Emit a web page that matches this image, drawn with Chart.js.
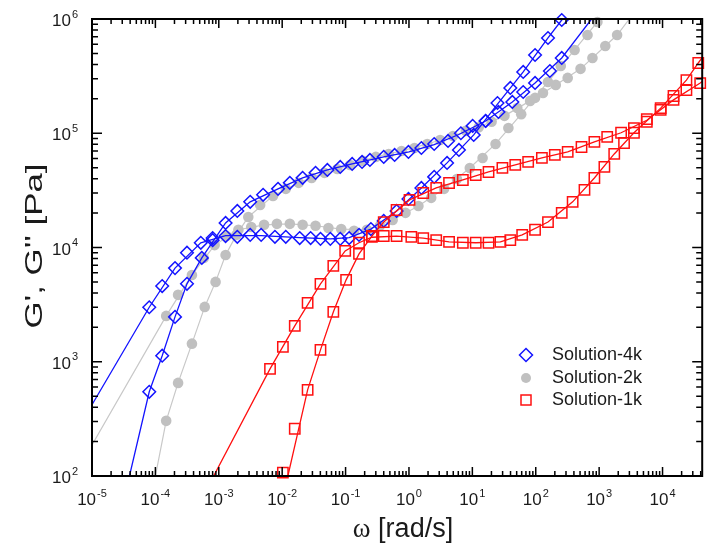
<!DOCTYPE html>
<html>
<head>
<meta charset="utf-8">
<script src="https://cdn.jsdelivr.net/npm/chart.js@4.4.1/dist/chart.umd.min.js"></script>
<style>
  html, body { margin: 0; padding: 0; background: #ffffff; }
  #wrap { width: 711px; height: 547px; }
</style>
</head>
<body>
<div id="wrap"><canvas id="chart" width="711" height="547"></canvas></div>
<script>
// ===========================
// DATA  (omega [rad/s], modulus [Pa])
// ===========================

const xDecades = [-5, -4, -3, -2, -1, 0, 1, 2, 3, 4];
const yDecades = [2, 3, 4, 5, 6];
const legendNames = ["Solution-4k", "Solution-2k", "Solution-1k"];

// Solution-4k
const sol4kLoss = [
  [8.0e-5, 3000], [1.28e-4, 4600], [2.04e-4, 6600], [3.15e-4, 9000], [5.2e-4, 11000],
  [8.0e-4, 12100], [1.28e-3, 12600], [1.96e-3, 12400], [3.13e-3, 12900], [4.66e-3, 12900],
  [7.69e-3, 12400], [0.0114, 12400], [0.0189, 12100], [0.0281, 12100], [0.0402, 11900],
  [0.0575, 11900], [0.0824, 11900], [0.114, 12100], [0.163, 12900], [0.251, 14500],
  [0.4, 17100], [0.638, 20900], [0.982, 26600], [1.57, 33200], [2.5, 41500],
  [3.99, 55000], [6.14, 71400], [10.5, 96700], [16.2, 128000], [24.9, 184000],
  [39.7, 249000], [63.4, 344000], [97.5, 484000], [156, 682000], [257, 980000]
];
const sol4kStorage = [
  [8.0e-5, 546], [1.28e-4, 1130], [2.04e-4, 2470], [3.15e-4, 4810], [5.4e-4, 8110],
  [8.0e-4, 11600], [1.28e-3, 16400], [1.96e-3, 20900], [3.13e-3, 25100], [5.0e-3, 28900],
  [8.6e-3, 32600], [0.0132, 36800], [0.021, 40700], [0.0336, 45000], [0.0516, 47700],
  [0.0824, 50700], [0.127, 53900], [0.182, 56100], [0.242, 58400], [0.4, 62100],
  [0.594, 64600], [0.981, 68600], [1.57, 74300], [2.5, 80500], [4.13, 85600],
  [6.59, 100000], [10.1, 116000], [16.2, 128200], [25.8, 153600], [42.7, 187800],
  [63.4, 229700], [97.5, 275400], [167, 350600], [257, 456000]
];

// Solution-2k
const sol2kLoss = [
  [1.48e-4, 2520], [2.28e-4, 3850], [3.77e-4, 5750], [5.79e-4, 8110], [8.6e-4, 10500],
  [1.32e-3, 12600], [2.04e-3, 14300], [3.25e-3, 15100], [5.18e-3, 15800], [8.26e-3, 16100],
  [0.0132, 16100], [0.021, 15800], [0.0336, 15500], [0.0536, 14800], [0.0853, 14500],
  [0.136, 14000], [0.217, 14300], [0.347, 15500], [0.553, 17400], [0.881, 20100],
  [1.41, 23100], [2.24, 27200], [3.58, 32600], [5.71, 39800], [9.11, 49700],
  [14.5, 60800], [23.2, 80600], [37, 111000], [59, 147000], [97.5, 204000],
  [156, 281000], [248, 388000], [410, 536000], [655, 724000], [938, 942000]
];
const sol2kStorage = [
  [1.48e-4, 304], [2.28e-4, 653], [3.77e-4, 1440], [6.0e-4, 3020], [8.9e-4, 5000],
  [1.28e-3, 8610], [1.9e-3, 12900], [2.92e-3, 18500], [4.49e-3, 23600], [7.16e-3, 28300],
  [0.0114, 32600], [0.0182, 36800], [0.0291, 40600], [0.0464, 45000], [0.074, 48700],
  [0.118, 52800], [0.188, 57300], [0.3, 62100], [0.479, 65900], [0.764, 70000],
  [1.22, 74300], [1.94, 80600], [3.1, 87300], [4.94, 94600], [7.89, 105000],
  [12.6, 113000], [20.1, 126000], [32.1, 142000], [51.1, 166000], [81.5, 192000],
  [130, 225000], [207, 265000], [319, 305000], [509, 366000], [784, 456000],
  [1250, 581000], [1920, 724000]
];

// Solution-1k
const sol1kLoss = [
  [6.43e-3, 867], [0.01026, 1350], [0.0158, 2060], [0.0252, 3270], [0.0402, 4810],
  [0.0641, 6910], [0.0986, 9340], [0.163, 11000], [0.26, 12400], [0.4, 12600],
  [0.638, 12600], [1.09, 12400], [1.68, 12100], [2.69, 11600], [4.29, 11200],
  [7.08, 11000], [11.3, 11000], [18, 11000], [27.7, 11200], [39.7, 11600],
  [61.1, 12900], [97.5, 14300], [156, 16700], [257, 20100], [382, 25100],
  [587, 31900], [841, 40600], [1210, 50700], [1730, 65900], [2470, 82200],
  [3540, 101000], [5650, 126000], [9340, 166000], [14900, 212000], [23800, 292000],
  [36600, 412000]
];
const sol1kStorage = [
  [0.01026, 107], [0.0158, 259], [0.0252, 568], [0.0402, 1270], [0.0641, 2730],
  [0.102, 5210], [0.163, 8790], [0.26, 12600], [0.4, 16700], [0.638, 21300],
  [1.02, 26100], [1.68, 30000], [2.69, 33200], [4.29, 36700], [7.08, 39000],
  [11.3, 43100], [18, 45800], [29.8, 49700], [47.5, 52800], [75.9, 56100],
  [125, 60800], [200, 64600], [319, 68600], [527, 75800], [841, 84000],
  [1340, 92900], [2220, 101000], [3540, 111000], [5650, 133000], [9340, 160000],
  [14900, 196000], [23800, 239000], [39300, 275000]
];

// Fitted model curves (thin lines)
const fit4kLoss = [
  [1e-5, 420], [8.0e-5, 3000], [2.04e-4, 6600], [5.2e-4, 11000], [1.28e-3, 12700],
  [4.66e-3, 12700], [0.0189, 12200], [0.0575, 11900], [0.114, 12200], [0.251, 14500],
  [0.638, 20900], [1.57, 33200], [3.99, 55000], [10.5, 96700], [24.9, 180000],
  [63.4, 344000], [156, 682000], [257, 980000], [400, 1.3e6]
];
const fit4kStorage = [
  [3.9e-5, 100], [8.0e-5, 546], [1.28e-4, 1130], [2.04e-4, 2470], [3.15e-4, 4810],
  [5.4e-4, 8110], [1.28e-3, 16400], [3.13e-3, 25100], [8.6e-3, 32600], [0.021, 40700],
  [0.0516, 47700], [0.127, 53900], [0.4, 62100], [1.0, 68600], [2.5, 79500],
  [6.0, 97000], [16.2, 128000], [42.7, 188000], [97.5, 275000], [257, 456000],
  [760, 1.0e6], [1000, 1.2e6]
];
const fit2kLoss = [
  [1e-5, 187], [1.48e-4, 2520], [3.77e-4, 5750], [8.6e-4, 10500], [2.04e-3, 14300],
  [5.18e-3, 15800], [0.0132, 16100], [0.0336, 15500], [0.0853, 14500], [0.217, 14300],
  [0.553, 17400], [1.41, 23100], [3.58, 32600], [9.11, 49700], [23.2, 80600],
  [59, 147000], [156, 281000], [410, 536000], [938, 942000], [1300, 1.25e6]
];
const fit2kStorage = [
  [1.0e-4, 100], [1.48e-4, 304], [2.28e-4, 653], [3.77e-4, 1440], [6.0e-4, 3020],
  [8.9e-4, 5000], [1.28e-3, 8610], [1.9e-3, 12900], [2.92e-3, 18500], [7.16e-3, 28300],
  [0.0182, 36800], [0.0464, 45000], [0.118, 52800], [0.3, 62100], [0.764, 70000],
  [1.94, 80600], [4.94, 94600], [12.6, 113000], [32.1, 142000], [81.5, 192000],
  [207, 265000], [509, 366000], [1250, 581000], [1920, 724000], [3000, 1.0e6]
];
const fit1kLoss = [
  [8.3e-4, 100], [6.43e-3, 867], [0.0158, 2060], [0.0402, 4810], [0.0986, 9340],
  [0.163, 11000], [0.26, 12300], [0.638, 12600], [1.68, 12100], [4.29, 11200],
  [11.3, 11000], [27.7, 11200], [61.1, 12900], [156, 16700], [382, 25100],
  [841, 40600], [1730, 65900], [3540, 101000], [9340, 166000], [23800, 292000],
  [36600, 412000], [60000, 600000]
];
const fit1kStorage = [
  [0.0123, 100], [0.0252, 568], [0.0402, 1270], [0.0641, 2730], [0.102, 5210],
  [0.163, 8790], [0.26, 12600], [0.4, 16700], [1.02, 26100], [2.69, 33200],
  [7.08, 39000], [18, 45800], [47.5, 52800], [125, 60800], [319, 68600],
  [841, 84000], [2220, 101000], [5650, 130000], [14900, 196000], [39300, 275000],
  [60000, 330000]
];

// ===========================
// STYLE HELPERS
// ===========================

const BLUE = "#1414ff";
const RED = "#ff1010";
const GREY = "#c0c0c0";
const GREY_LINE = "#c8c8c8";
const INK = "#1a1a1a";
const SANS = '"Liberation Sans", Arial, sans-serif';
const NARROW = '"Liberation Sans Narrow", "Liberation Sans", Arial, sans-serif';

function pts(arr) {
  return arr.map((p) => ({ x: p[0], y: p[1] }));
}

function markers(data, color, style, radius, filled) {
  return {
    data: pts(data),
    showLine: false,
    clip: false,
    pointStyle: style,
    pointRadius: radius,
    pointHoverRadius: radius,
    pointBorderWidth: filled ? 0 : 1.5,
    pointBorderColor: color,
    pointBackgroundColor: filled ? color : "rgba(0,0,0,0)",
    borderColor: color,
  };
}

function fitLine(data, color, width) {
  return {
    data: pts(data),
    showLine: true,
    pointRadius: 0,
    pointHoverRadius: 0,
    borderColor: color,
    borderWidth: width,
    fill: false,
    tension: 0,
  };
}

// ===========================
// AXES, LABELS, LEGEND (drawn on top)
// ===========================

function drawPower(ctx, exp, x, baseline, align) {
  ctx.font = "17px " + NARROW;
  const wb = ctx.measureText("10").width;
  ctx.font = "11px " + NARROW;
  const we = ctx.measureText(exp).width;
  const total = wb + we + 1;
  const start = align === "center" ? x - total / 2 : x - total;
  ctx.textAlign = "left";
  ctx.textBaseline = "alphabetic";
  ctx.font = "17px " + NARROW;
  ctx.fillText("10", start, baseline);
  ctx.font = "11px " + NARROW;
  ctx.fillText(exp, start + wb + 1, baseline - 8.5);
}

const framePlugin = {
  id: "frame",
  afterDraw(chart) {
    const { ctx, chartArea: a, scales } = chart;
    const xs = scales.x;
    const ys = scales.y;
    ctx.save();

    // frame
    ctx.strokeStyle = "#000";
    ctx.lineWidth = 2;
    ctx.strokeRect(a.left, a.top, a.right - a.left, a.bottom - a.top);

    // inward ticks
    ctx.lineWidth = 1.5;
    ctx.beginPath();
    xDecades.forEach((d) => {
      for (let m = 1; m <= 9; m++) {
        const v = m * Math.pow(10, d);
        if (v > xs.max) break;
        const px = xs.getPixelForValue(v);
        const len = m === 1 ? 9 : 5;
        ctx.moveTo(px, a.bottom);
        ctx.lineTo(px, a.bottom - len);
        ctx.moveTo(px, a.top);
        ctx.lineTo(px, a.top + len);
      }
    });
    yDecades.forEach((d) => {
      for (let m = 1; m <= 9; m++) {
        const v = m * Math.pow(10, d);
        if (v > ys.max) break;
        const py = ys.getPixelForValue(v);
        const len = m === 1 ? 10 : 6;
        ctx.moveTo(a.left, py);
        ctx.lineTo(a.left + len, py);
        ctx.moveTo(a.right, py);
        ctx.lineTo(a.right - len, py);
      }
    });
    ctx.stroke();

    // tick labels
    ctx.fillStyle = INK;
    xDecades.forEach((d) => {
      drawPower(ctx, String(d), xs.getPixelForValue(Math.pow(10, d)), a.bottom + 29, "center");
    });
    yDecades.forEach((d) => {
      drawPower(ctx, String(d), a.left - 14, ys.getPixelForValue(Math.pow(10, d)) + 7, "right");
    });

    // x title
    ctx.font = '27px "Liberation Serif", "Times New Roman", serif';
    const w1 = ctx.measureText("\u03c9").width;
    ctx.font = "27px " + SANS;
    const w2 = ctx.measureText(" [rad/s]").width;
    const sx = 403 - (w1 + w2) / 2;
    ctx.textAlign = "left";
    ctx.textBaseline = "alphabetic";
    ctx.font = '27px "Liberation Serif", "Times New Roman", serif';
    ctx.fillText("\u03c9", sx, 537);
    ctx.font = "27px " + SANS;
    ctx.fillText(" [rad/s]", sx + w1, 537);

    // y title
    ctx.save();
    ctx.translate(42, 246);
    ctx.rotate(-Math.PI / 2);
    ctx.scale(1.45, 1);
    ctx.font = "24px " + SANS;
    ctx.textAlign = "center";
    ctx.fillText("G', G'' [Pa]", 0, 0);
    ctx.restore();

    // legend
    const lx = 526;
    const rows = [355, 378, 400];
    ctx.lineWidth = 1.5;
    ctx.strokeStyle = BLUE;
    ctx.beginPath();
    ctx.moveTo(lx, rows[0] - 6.5);
    ctx.lineTo(lx + 6.5, rows[0]);
    ctx.lineTo(lx, rows[0] + 6.5);
    ctx.lineTo(lx - 6.5, rows[0]);
    ctx.closePath();
    ctx.stroke();
    ctx.fillStyle = GREY;
    ctx.beginPath();
    ctx.arc(lx, rows[1], 5, 0, Math.PI * 2);
    ctx.fill();
    ctx.strokeStyle = RED;
    ctx.strokeRect(lx - 5, rows[2] - 5, 10, 10);

    ctx.fillStyle = INK;
    ctx.font = "18px " + SANS;
    ctx.textAlign = "left";
    ctx.textBaseline = "middle";
    legendNames.forEach((name, i) => ctx.fillText(name, 552, rows[i]));

    ctx.restore();
  },
};

// ===========================
// CHART
// ===========================

const ctx = document.getElementById("chart").getContext("2d");

new Chart(ctx, {
  type: "scatter",
  data: {
    datasets: [
      markers(sol1kStorage, RED, "rect", 7.3, false),
      markers(sol1kLoss, RED, "rect", 7.3, false),
      fitLine(fit1kStorage, RED, 1.3),
      fitLine(fit1kLoss, RED, 1.3),
      markers(sol4kStorage, BLUE, "rectRot", 6.3, false),
      markers(sol4kLoss, BLUE, "rectRot", 6.3, false),
      fitLine(fit4kStorage, BLUE, 1.3),
      fitLine(fit4kLoss, BLUE, 1.3),
      markers(sol2kStorage, GREY, "circle", 5.3, true),
      markers(sol2kLoss, GREY, "circle", 5.3, true),
      fitLine(fit2kStorage, GREY_LINE, 1.2),
      fitLine(fit2kLoss, GREY_LINE, 1.2),
    ],
  },
  options: {
    responsive: false,
    animation: false,
    events: [],
    layout: { padding: { left: 92, top: 19, right: 2, bottom: 71 } },
    plugins: {
      legend: { display: false },
      tooltip: { enabled: false },
    },
    scales: {
      x: { type: "logarithmic", min: 1e-5, max: 42230, bounds: "data", display: false },
      y: { type: "logarithmic", min: 100, max: 1e6, bounds: "data", display: false },
    },
  },
  plugins: [framePlugin],
});
</script>
</body>
</html>
